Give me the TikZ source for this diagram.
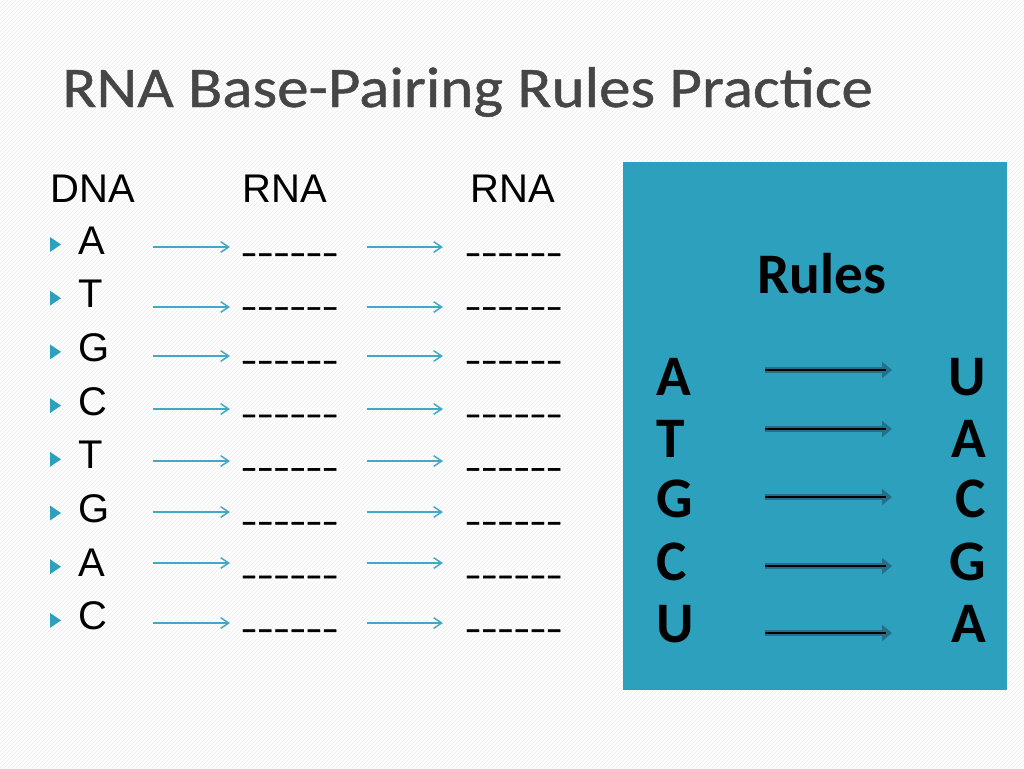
\documentclass[tikz,border=0pt]{standalone}
\usepackage{fontspec}
\setmainfont{Liberation Sans}
\newfontfamily\titlefont{Carlito}
\newfontfamily\headfont[FakeStretch=1.1,FakeBold=0.8]{Carlito}
\newfontfamily\blankfont[FakeBold=1.5]{Liberation Sans}
\usepackage{graphicx}
\usetikzlibrary{arrows.meta,patterns}
\definecolor{boxteal}{RGB}{45,160,190}
\definecolor{arrowteal}{RGB}{66,168,198}
\definecolor{darkteal}{RGB}{36,112,138}
\definecolor{titlegray}{RGB}{70,70,70}
\newcommand\dashpiece{\scalebox{0.6}[1]{\_}\kern3.5pt}
\newcommand\blanks{\dashpiece\dashpiece\dashpiece\dashpiece\dashpiece\dashpiece}

\begin{document}
\begin{tikzpicture}[x=0.75pt,y=0.75pt,yscale=-1,xscale=1,
    letter/.style={anchor=base west,inner sep=0pt,font=\fontsize{30}{36}\selectfont},
    blank/.style={anchor=base west,inner sep=0pt,font=\blankfont\fontsize{26}{30}\selectfont},
    rulesletter/.style={inner sep=0pt,font=\titlefont\bfseries\fontsize{43}{50}\selectfont},
    bulletmark/.style={fill=boxteal},
    thinarrow/.style={draw=arrowteal,line width=1.1pt,-{Straight Barb[length=6pt,width=8pt]}},
    rulearrow/.style={draw=darkteal,line width=4.5pt,-{Triangle[length=7.5pt,width=12pt]}}]
    \useasboundingbox (0,0) rectangle (1024,768);
    %Shape: Rectangle (background)
    \fill[white] (0,0) rectangle (1024,768);
    \fill[pattern=north east lines,pattern color=black!7] (0,0) rectangle (1024,768);

    % Text Node
    \node[anchor=base west,inner sep=0pt,text=titlegray,font=\headfont\fontsize{43}{50}\selectfont] (title) at (62,107) {RNA Base-Pairing Rules Practice};

    % Text Node
    \node[letter] (dna) at (50,202) {DNA};
    % Text Node
    \node[letter] (rnaone) at (242,202) {RNA};
    % Text Node
    \node[letter] (rnatwo) at (470,202) {RNA};

    \foreach \base/\ay [count=\i] in {A/247,T/307,G/356,C/409,T/461,G/512,A/563,C/623} {
        \pgfmathsetmacro\by{254+53.7*(\i-1)}
        %Shape: Triangle
        \fill[bulletmark] (50,\by-17) -- (61,\by-9.5) -- (50,\by-2) -- cycle;
        % Text Node
        \node[letter] (d\i) at (78,\by) {\base};
        % Text Node
        \node[blank] (b\i) at (243,\by-5) {\blanks};
        % Text Node
        \node[blank] (c\i) at (467,\by-5) {\blanks};
        %Straight Lines
        \coordinate (p\i) at (153,\ay);
        \coordinate (q\i) at (230,\ay);
        \coordinate (r\i) at (367,\ay);
        \coordinate (s\i) at (443,\ay);
        \draw[thinarrow] (p\i) -- (q\i);
        \draw[thinarrow] (r\i) -- (s\i);
    }

    %Shape: Rectangle
    \fill[boxteal] (623,162) rectangle (1007,690);
    % Text Node
    \node[rulesletter,anchor=base west] (rules) at (757,293) {Rules};

    \foreach \from/\to/\base/\ay [count=\i] in {A/U/395/370,T/A/457/429,G/C/517/497,C/G/580/566,U/A/642/633} {
        % Text Node
        \node[rulesletter,anchor=base west] (l\i) at (656,\base) {\from};
        % Text Node
        \node[rulesletter,anchor=base east] (m\i) at (986,\base) {\to};
        %Straight Lines
        \coordinate (u\i) at (765,\ay);
        \coordinate (v\i) at (892,\ay);
        \coordinate (w\i) at (886,\ay);
        \draw[rulearrow] (u\i) -- (v\i);
        \draw[black,line width=0.8pt] (u\i) -- (w\i);
    }
\end{tikzpicture}
\end{document}
